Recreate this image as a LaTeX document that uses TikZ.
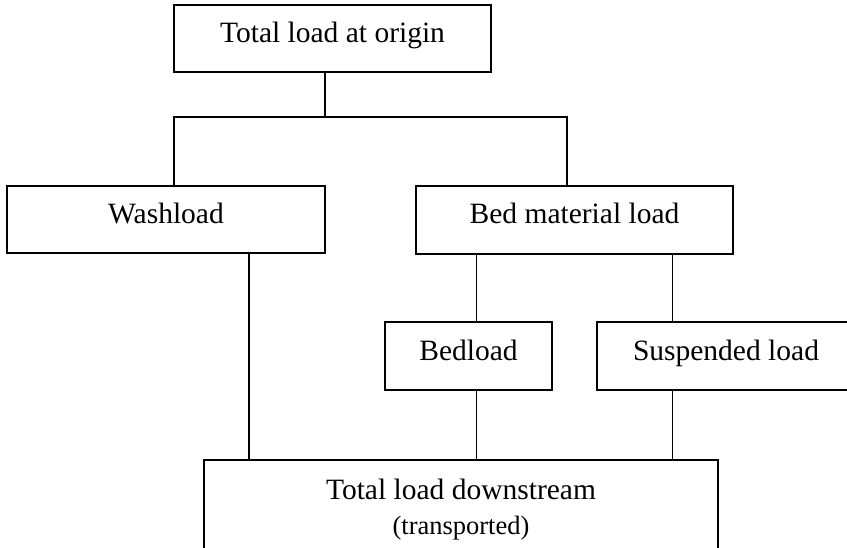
\documentclass[tikz,border=0pt]{standalone}
\usepackage{fontspec}
\setmainfont{Liberation Serif}
\begin{document}
\begin{tikzpicture}[x=1pt,y=-1pt,
  loadbox/.style={draw, line width=1.1pt, inner sep=0pt, outer sep=0pt, anchor=north west},
  boxtext/.style={font=\fontsize{29.5}{35}\selectfont, inner sep=0pt, anchor=base},
  smalltext/.style={font=\fontsize{26.5}{31}\selectfont, inner sep=0pt, anchor=base},
  link/.style={line width=1.1pt}]
\useasboundingbox (0,0) rectangle (847,548);

% boxes
\node[loadbox, minimum width=317pt, minimum height=67pt] (origin) at (174,5) {};
\node[loadbox, minimum width=318pt, minimum height=67pt] (wash) at (7,186) {};
\node[loadbox, minimum width=317pt, minimum height=68pt] (bed) at (416,186) {};
\node[loadbox, minimum width=167pt, minimum height=68pt] (bedl) at (385,322) {};
\node[loadbox, minimum width=252pt, minimum height=68pt] (susp) at (597,322) {};
\node[loadbox, minimum width=514pt, minimum height=88.5pt] (down) at (204,460) {};

% box texts
\node[boxtext] (originT) at ([yshift=-38pt]origin.north) {Total load at origin};
\node[boxtext] (washT) at ([yshift=-38pt]wash.north) {Washload};
\node[boxtext] (bedT) at ([yshift=-38pt]bed.north) {Bed material load};
\node[boxtext] (bedlT) at ([yshift=-38pt]bedl.north) {Bedload};
\node[boxtext] (suspT) at ([yshift=-38pt,xshift=3pt]susp.north) {Suspended load};
\node[boxtext] (downT) at ([yshift=-39pt]down.north) {Total load downstream};
\node[smalltext] (downS) at ([yshift=-74pt]down.north) {(transported)};

% connector positions
\coordinate (split) at (325,117);
\coordinate (fork-l) at (174,117);
\coordinate (fork-r) at (567,117);
\coordinate (tap-wash) at (249,0);
\coordinate (tap-bed) at (476.5,0);
\coordinate (tap-susp) at (672.5,0);

% connectors
\draw[link] (origin.south -| split) -- (split);
\draw[link] (wash.north -| fork-l) -- (fork-l) -- (fork-r) -- (bed.north -| fork-r);
\draw[link] (bed.south -| tap-bed) -- (bedl.north -| tap-bed);
\draw[link] (bed.south -| tap-susp) -- (susp.north -| tap-susp);
\draw[link] (wash.south -| tap-wash) -- (down.north -| tap-wash);
\draw[link] (bedl.south -| tap-bed) -- (down.north -| tap-bed);
\draw[link] (susp.south -| tap-susp) -- (down.north -| tap-susp);
\end{tikzpicture}
\end{document}
